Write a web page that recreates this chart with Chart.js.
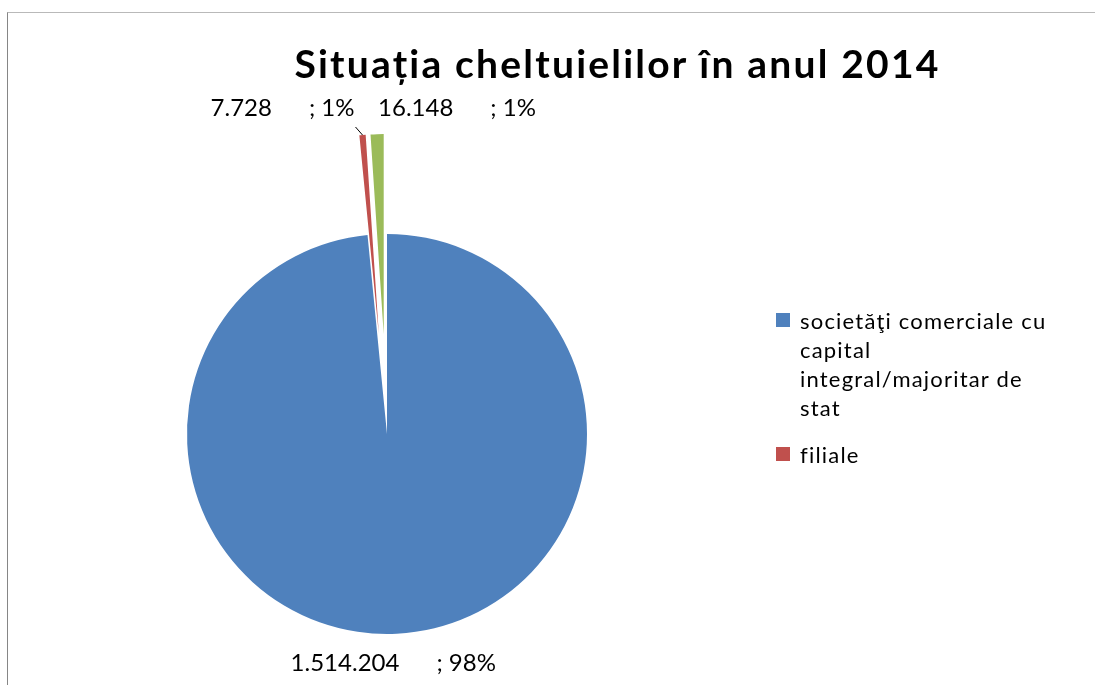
<!DOCTYPE html>
<html>
<head>
<meta charset="utf-8">
<script src="https://cdn.jsdelivr.net/npm/chart.js@4.4.1/dist/chart.umd.min.js"></script>
<style>
  html, body { margin: 0; padding: 0; width: 1095px; height: 685px; overflow: hidden; background: #fff; }
  #frame { position: absolute; left: 7px; top: 12px; width: 1300px; height: 800px;
           border-left: 1px solid #868686; border-top: 1px solid #b9b9b9; }
  #c { position: absolute; left: 0; top: 0; }
  #title { position: absolute; left: 0; width: 1235px; top: 42px; text-align: center;
           font-family: Lato, "Open Sans", sans-serif; font-weight: bold; font-size: 39px;
           letter-spacing: 2.2px; line-height: 43px; color: #000; white-space: nowrap; }
  #legend { position: absolute; left: 776px; top: 306px; font-family: Lato, "Open Sans", sans-serif;
            font-size: 22px; line-height: 29px; color: #000; letter-spacing: 1.2px; }
  .item { display: flex; align-items: flex-start; margin-bottom: 18px; }
  .mark { width: 14px; height: 14px; margin-top: 7px; margin-right: 10px; flex: none; }
  .txt { width: 264px; }
</style>
</head>
<body>
<div id="frame"></div>
<canvas id="c" width="1095" height="685"></canvas>
<div id="title"></div>
<div id="legend"></div>
<script>
const chartTitle = "Situația cheltuielilor în anul 2014";
const categories = [
  "societăţi comerciale cu capital integral/majoritar de stat",
  "filiale",
  "altele"
];
const values = [1514204, 7728, 16148];
const colors = ["#4F81BD", "#C0504D", "#9BBB59"];
const legendShown = [true, true, false];

document.getElementById('title').textContent = chartTitle;
const legendEl = document.getElementById('legend');
categories.forEach((name, i) => {
  if (!legendShown[i]) return;
  const it = document.createElement('div'); it.className = 'item';
  const m = document.createElement('div'); m.className = 'mark'; m.style.background = colors[i];
  const t = document.createElement('div'); t.className = 'txt'; t.textContent = name;
  it.appendChild(m); it.appendChild(t); legendEl.appendChild(it);
});

function fmt(n) { return String(n).replace(/\B(?=(\d{3})+(?!\d))/g, '.'); }

const EXPLODE = [0, 100, 100];

const explodePlugin = {
  id: 'explode',
  afterDatasetsUpdate(chart) {
    const meta = chart.getDatasetMeta(0);
    meta.data.forEach((arc, i) => {
      const d = EXPLODE[i] || 0;
      if (!d) return;
      const mid = (arc.startAngle + arc.endAngle) / 2;
      arc.x += Math.cos(mid) * d;
      arc.y += Math.sin(mid) * d;
    });
  }
};

// label placement style per slice: anchor relative to the arc's outer mid point
const LABEL_STYLE = [
  { align: 'center', dx: -3.5, dy: 37, leader: false },
  { align: 'right', dx: -8, dy: -19, leader: true },
  { align: 'left', dx: 1, dy: -18, leader: false }
];

const labelPlugin = {
  id: 'pieLabels',
  afterDatasetsDraw(chart) {
    const ctx = chart.ctx;
    const meta = chart.getDatasetMeta(0);
    const data = chart.data.datasets[0].data;
    const total = data.reduce((a, b) => a + b, 0);
    ctx.save();
    ctx.font = '24px Lato, "Open Sans", sans-serif';
    ctx.fillStyle = '#000';
    ctx.textBaseline = 'alphabetic';
    const gap = 37;
    meta.data.forEach((arc, i) => {
      const st = LABEL_STYLE[i];
      const mid = (arc.startAngle + arc.endAngle) / 2;
      const ox = arc.x + Math.cos(mid) * arc.outerRadius;
      const oy = arc.y + Math.sin(mid) * arc.outerRadius;
      const a = fmt(data[i]);
      const b = '; ' + Math.round(data[i] / total * 100) + '%';
      const wa = ctx.measureText(a).width, wb = ctx.measureText(b).width;
      const w = wa + gap + wb;
      let x0;
      const ax = ox + st.dx, ay = oy + st.dy;
      if (st.align === 'center') x0 = ax - w / 2;
      else if (st.align === 'right') x0 = ax - w;
      else x0 = ax;
      ctx.textAlign = 'left';
      ctx.fillText(a, x0, ay);
      ctx.fillText(b, x0 + wa + gap, ay);
      if (st.leader) {
        ctx.beginPath();
        ctx.strokeStyle = '#000';
        ctx.lineWidth = 1;
        ctx.moveTo(ox - 7, oy - 8);
        ctx.lineTo(ox, oy);
        ctx.stroke();
      }
    });
    ctx.restore();
  }
};

new Chart(document.getElementById('c'), {
  type: 'pie',
  data: {
    labels: categories,
    datasets: [{
      data: values,
      backgroundColor: colors,
      borderColor: '#ffffff',
      borderWidth: 0,
      clip: false
    }]
  },
  options: {
    responsive: false,
    animation: false,
    events: [],
    radius: 200,
    layout: { padding: { top: 183, right: 321, left: 0, bottom: 0 } },
    plugins: {
      legend: { display: false },
      title: { display: false },
      tooltip: { enabled: false }
    }
  },
  plugins: [explodePlugin, labelPlugin]
});
</script>
</body>
</html>
